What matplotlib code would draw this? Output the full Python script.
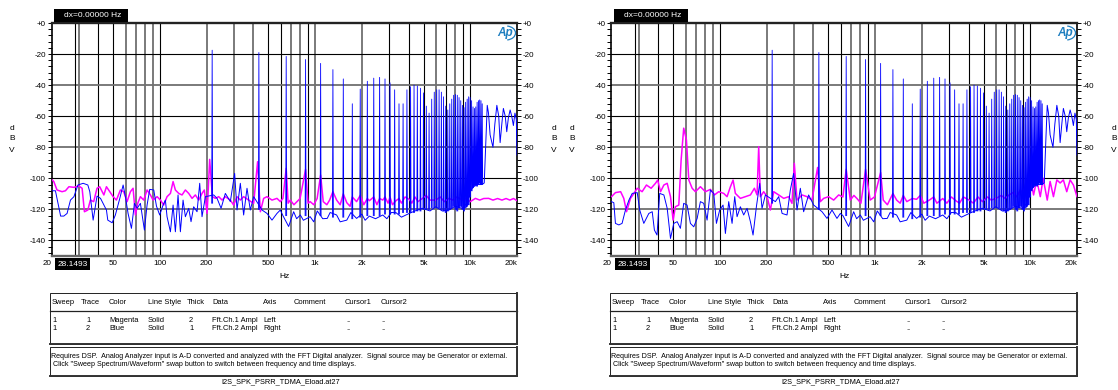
import matplotlib
matplotlib.use("Agg")
import matplotlib.pyplot as plt
from matplotlib.patches import Rectangle, Arc
from matplotlib.ticker import MultipleLocator, NullLocator
import numpy as np

plt.rcParams['font.family'] = ['Liberation Sans', 'DejaVu Sans']

# Ch.1 (magenta), left sweep, 20 Hz - 600 Hz
mag_l_lo_f = [20, 20.7, 21.7, 23.4, 24.6, 25.9, 27.9, 30.0, 31.5, 32.6, 34.3, 35.6, 37.4, 39.3, 40.9,
              43.5, 45.2, 47.5, 49.9, 52.4, 55.6, 58.4, 61.4, 64.5, 67.1, 69.5, 71.9, 74.8, 78.6, 82.6,
              86.8, 90.3, 95.9, 100.7, 105.7, 111.1, 116.8, 121.5, 125.7, 132.1, 138.8, 145.8, 153.2,
              161.0, 169.1, 177.7, 186.7, 193.2, 201.3, 209.1, 217.7, 227.6, 239.1, 251.4, 263.9, 284.2,
              298.5, 313.8, 329.6, 346.2, 372.8, 401.7, 425.9, 443.6, 465.9, 489.8, 527.3, 567.6, 596.7]
mag_l_lo_db = [-100.6, -102.1, -107.5, -108.6, -108, -105.4, -105.8, -104.9, -106.4, -121.5, -120.4, -114,
               -115, -106.4, -105.4, -110.7, -105.4, -108.6, -111.8, -114, -107.5, -108.6, -115, -108.6,
               -106.4, -123.6, -116.1, -111.8, -114, -107.5, -110.7, -114, -111.8, -114, -117.2, -111.8,
               -109.7, -102.1, -107.5, -109.7, -110.7, -107.5, -109.7, -112.9, -110.7, -114, -109.7,
               -107.5, -122.6, -87.8, -111.8, -112.9, -111.8, -114, -111.8, -114, -117.2, -111.8, -114,
               -111.8, -114, -116.1, -89.3, -121.5, -112.9, -111.8, -114, -112.9, -115]
# Ch.1 (magenta), left sweep, 600 Hz - 20 kHz
mag_l_hi_f = [620, 651, 670, 692, 730, 764, 800, 868, 900, 929, 980, 1030, 1085, 1128, 1190, 1240, 1302,
              1376, 1450, 1519, 1600, 1680, 1736, 1851, 1953, 2060, 2170, 2238, 2387, 2500, 2604, 2729,
              2821, 2950, 3038, 3150, 3320, 3472, 3600, 3800, 4040, 4200, 4400, 4600, 4920, 5200, 5500,
              5990, 6400, 6800, 7290, 7700, 8200, 8870, 9400, 10000, 10790, 11500, 12200, 13130, 14000,
              15000, 16000, 17000, 18000, 19000, 20000]
mag_l_hi_db = [-113, -93.6, -116, -114, -117, -115, -113, -94.2, -116, -115, -117, -113, -97.9, -115, -117,
               -114, -108.6, -114, -117, -110, -115.7, -118, -112, -115, -111, -117, -113, -114.4, -112,
               -117, -113, -114, -112, -116, -112, -117, -114.4, -113, -116, -112, -113.5, -116, -112, -115,
               -112.9, -111, -114, -114, -112, -115, -112.9, -114, -112, -114, -113, -115, -112.9, -114,
               -113, -112.9, -114, -113, -114, -113, -114, -113, -114.4]

# Ch.1 (magenta), right sweep
mag_r_lo_f = [20, 21.2, 22.9, 24.0, 25.0, 26.5, 27.9, 29.3, 31.5, 33.6, 36.0, 38.4, 39.7, 41.4, 43.5, 45.7,
              48.0, 49.9, 51.6, 54.3, 56.2, 58.4, 60.8, 63.0, 66.2, 69.5, 74.8, 80.6, 86.8, 92.1, 98.2,
              105.7, 111.1, 116.8, 121.5, 125.7, 135.4, 145.8, 157.1, 166.7, 173.4, 177.7, 182.2, 191.4,
              201.3, 211.3, 222.0, 239.1, 257.6, 277.3, 291.2, 301.4, 313.8, 338.0, 363.9, 391.9, 425.9,
              443.6, 465.9, 501.5, 540.6, 582.3]
mag_r_lo_db = [-111.8, -109.2, -108.6, -112.9, -121.5, -112.9, -109.7, -106.4, -108.6, -104.3, -106.4,
               -103.2, -101.1, -108.6, -104.3, -103.2, -111.8, -126.9, -118.3, -117.2, -88.2, -67.7, -75.3,
               -101.1, -106.4, -108.6, -105.4, -108.6, -107.1, -110.7, -108.6, -109.7, -111.8, -105.4,
               -101.1, -109.7, -112.9, -111.8, -110.7, -106.4, -110.7, -79.6, -111.8, -108.6, -111.8,
               -120.4, -108.6, -110.7, -112.9, -111.8, -116.1, -90.3, -114, -110.7, -111.8, -114, -93,
               -115, -112.9, -111.8, -114, -110.7]
mag_r_hi_f = [620, 651, 692, 730, 764, 810, 868, 929, 990, 1085, 1128, 1200, 1302, 1376, 1450, 1519, 1600,
              1736, 1851, 1953, 2060, 2238, 2387, 2500, 2729, 2900, 3100, 3320, 3500, 3700, 4040, 4300,
              4600, 4920, 5300, 5600, 5990, 6500, 6900, 7290, 7800, 8200, 8610, 9000, 9500, 9750, 10000,
              10500, 11000, 11600, 12100, 12860, 13420, 14100, 14830, 15570, 16340, 17180, 18060, 18960,
              20000]
mag_r_hi_db = [-112, -94.2, -114, -111, -113, -116, -94.2, -114, -112, -96.3, -114, -117, -109.7, -114,
               -116, -111, -115, -113, -113.5, -111, -116, -114, -112, -116, -113, -116, -112, -114.5,
               -116, -112, -114, -116, -112, -115, -112, -114, -113, -111, -113, -110.7, -109, -112,
               -107.5, -110, -101, -109, -100, -110.7, -101, -111.8, -100, -114, -102, -111.8, -101, -103,
               -101, -108.6, -101, -104.3, -111.8]

# Ch.2 (blue) noise floor below 600 Hz, left sweep
blue_l_lo_f = [20, 21.2, 21.7, 22.9, 24.0, 25.2, 26.5, 27.9, 29.6, 32.0, 34.3, 35.3, 37.1, 39.3, 41.4,
               45.2, 46.1, 49.2, 51.6, 55.1, 57.9, 59.9, 62.3, 65.5, 68.5, 71.3, 74.8, 79.4, 82.6, 85.9,
               91.2, 94.9, 99.6, 104.7, 108.4, 111.1, 116.8, 121.5, 125.7, 130.8, 135.4, 140.9, 145.8,
               153.2, 158.6, 164.9, 173.4, 180.4, 186.7, 196.3, 222.0, 233.4, 247.7, 263.9, 284.2, 302.9,
               313.8, 329.6, 346.2, 363.9, 382.2, 401.7, 454.9, 489.8, 527.3, 567.6, 596.7]
blue_l_lo_db = [-108, -108, -113, -124.3, -124.3, -122.6, -114, -111.8, -104.3, -103.2, -104.3, -108.6,
                -126.9, -111.4, -112.9, -120.4, -126.9, -128.6, -123.6, -112.9, -104.3, -111.8, -122.6,
                -132.2, -116.1, -119.3, -116.1, -133.3, -117.2, -107.1, -107.5, -117.8, -123.6, -117.2,
                -114, -124.7, -134.4, -117.2, -134.4, -110.7, -134.4, -114, -124.7, -119.3, -127.9, -118.3,
                -121.5, -103.2, -124.7, -111.8, -110.7, -112.9, -119.3, -109.7, -115, -96.8, -120.4,
                -103.2, -123.6, -106.4, -120.4, -111.8, -120.4, -122.6, -126.9, -122.6, -120.4]
# Ch.2 (blue) noise floor below 600 Hz, right sweep
blue_r_lo_f = [20, 20.7, 21.2, 22.3, 23.4, 24.6, 25.9, 27.2, 29.3, 30.4, 32.3, 34.8, 36.6, 37.8, 39.3,
               40.9, 43.5, 45.7, 48.0, 50.4, 53.0, 55.6, 58.4, 61.4, 64.5, 67.8, 71.3, 74.8, 78.6, 82.6,
               86.8, 91.2, 94.9, 99.6, 104.7, 108.4, 113.9, 119.7, 124.5, 128.9, 135.4, 142.2, 149.5,
               157.1, 163.4, 171.7, 180.4, 186.7, 196.3, 227.6, 239.1, 251.4, 270.5, 284.2, 298.5, 313.8,
               329.6, 346.2, 372.8, 401.7, 454.9, 489.8, 527.3, 567.6, 596.7]
blue_r_lo_db = [-115, -115.7, -129, -130, -129, -120.4, -114, -109.7, -109.2, -120.4, -129, -122.6,
                -121.5, -133.3, -136.5, -109.7, -110.7, -119.3, -138.7, -129, -127.9, -132.2, -116.1,
                -117.2, -129, -131.2, -125.8, -115, -116.1, -126.9, -107.5, -109.7, -129, -120.4, -117.2,
                -135.5, -115, -129, -111.8, -124.7, -118.3, -123.6, -119.3, -127.9, -136.5, -118.3,
                -103.2, -119.3, -110.7, -115, -111.8, -122.6, -123.6, -107.5, -96.8, -120.4, -106.4,
                -121.5, -110.7, -117.2, -121.5, -125.8, -120.4, -125.8, -122.6]

# Ch.2 (blue) floor 600 Hz - 12 kHz, same in both sweeps
blue_hi_f = [620, 675, 727, 760, 803, 840, 929, 980, 1032, 1120, 1197, 1250, 1376, 1450, 1600, 1700, 1851,
             2000, 2100, 2238, 2450, 2729, 2900, 3100, 3320, 3600, 4040, 4400, 4920, 5500, 5990, 6600,
             7290, 8000, 8870, 9500, 10000, 10600, 11200, 11800, 12300]
blue_hi_db = [-124, -131, -121.5, -126, -123.6, -127, -124.7, -128, -121, -126, -125.8, -122, -123.6, -128,
              -126.9, -122, -125.8, -123, -127, -124.3, -126, -123.6, -126, -122, -122.1, -125, -122.6,
              -121, -119.3, -121, -118.3, -121, -120.4, -118, -119.3, -116, -108, -105, -104, -104, -103]
# Ch.2 (blue) above 12 kHz
blue_top_f = [12600, 12860, 13100, 13420, 14000, 14400, 14830, 15250, 15570, 16000, 16340, 16800, 17180,
              17600, 18060, 18500, 18960, 19400, 19800, 20000]
blue_top_db = [-75, -53, -58, -72, -80, -65, -53, -60, -77, -64, -55, -60, -70, -61, -56, -60, -66, -58,
               -62, -85]

# TDMA tones on Ch.2: frequency, peak, level at the foot
tone_f = [217, 434, 651, 868, 1085, 1302, 1519, 1736, 1953, 2170, 2387, 2604, 2821, 3038, 3255, 3472,
          3689, 3906, 4123, 4340, 4557, 4774, 4991, 5208, 5425, 5642, 5859, 6076, 6293, 6510, 6727,
          6944, 7161, 7378, 7595, 7812, 8029, 8246, 8463, 8680, 8897, 9114, 9331, 9548, 9765, 9982,
          10199, 10416, 10633, 10850, 11067, 11284, 11501, 11718, 11935]
tone_db = [-17.5, -19, -21.5, -23.5, -26, -30, -36, -52, -42.5, -37.5, -35.5, -35, -36, -38.5, -43, -52,
           -52, -43, -41, -40, -40.5, -42, -45, -53.5, -58, -49, -44.5, -43, -43, -44.5, -47.5, -53.5,
           -56, -52, -49, -46.5, -46, -46.5, -48, -50, -53, -54.5, -51, -49, -47.5, -48, -50, -54, -55,
           -54, -51, -50, -49.5, -50, -52]
tone_foot = [-116, -120, -124, -124, -124, -125, -125, -126, -125, -124, -124, -124, -123, -123, -123,
             -123, -122, -122, -122, -122, -121, -121, -120, -120, -120, -119, -119, -119, -119, -120,
             -121, -122, -121, -120, -119, -118, -120, -121, -119, -118, -120, -121, -119, -118, -117,
             -112, -108, -106, -105, -104, -105, -104, -103, -104, -104]

x_ticks = [20, 50, 100, 200, 500, 1000, 2000, 5000, 10000, 20000]
x_labels = ['20', '50', '100', '200', '500', '1k', '2k', '5k', '10k', '20k']
y_ticks = [0, -20, -40, -60, -80, -100, -120, -140]
y_labels = ['+0', '-20', '-40', '-60', '-80', '-100', '-120', '-140']

# grid lines as they show up in the picture (dark / grey)
vgrid_dark = [40, 50, 100, 500, 600, 900, 3000, 4000, 5000, 7000, 9000, 10000]
vgrid_grey = [30, 60, 70, 80, 90, 200, 300, 400, 700, 800, 1000, 2000, 6000, 8000]
hgrid_dark = [-20, -60, -100, -140]
hgrid_grey = [-40, -80, -120]
cursor_hz = 28.1493

tbl_cols = ['Sweep', 'Trace', 'Color', 'Line Style', 'Thick', 'Data', 'Axis', 'Comment', 'Cursor1', 'Cursor2']
tbl_rows = [['1', '1', 'Magenta', 'Solid', '2', 'Fft.Ch.1 Ampl', 'Left', '', '..', '..'],
            ['1', '2', 'Blue', 'Solid', '1', 'Fft.Ch.2 Ampl', 'Right', '', '..', '..']]
note1 = 'Requires DSP.  Analog Analyzer input is A-D converted and analyzed with the FFT Digital analyzer.  Signal source may be Generator or external.'
note2 = ' Click "Sweep Spectrum/Waveform" swap button to switch between frequency and time displays.'
file_name = 'I2S_SPK_PSRR_TDMA_Eload.at27'

W, H = 1118, 390
MAG = '#ff00ff'
BLUE = '#0000ff'


def px_box(x0, y0, x1, y1):
    return [x0 / W, 1 - y1 / H, (x1 - x0) / W, (y1 - y0) / H]


def tone_path():
    xs, ys = [], []
    for f, top, foot in zip(tone_f, tone_db, tone_foot):
        xs += [f * 0.993, f, f * 1.007, np.nan]
        ys += [foot, top, foot, np.nan]
    return xs, ys


def draw_sweep(ax, mag_f, mag_db, blue_f, blue_db):
    for f in vgrid_grey:
        ax.axvline(f, color='#707070', lw=1.3, zorder=1)
    for f in vgrid_dark:
        ax.axvline(f, color='#000000', lw=0.8, zorder=1)
    for d in hgrid_grey:
        ax.axhline(d, color='#707070', lw=1.3, zorder=1)
    for d in hgrid_dark:
        ax.axhline(d, color='#000000', lw=0.8, zorder=1)
    ax.axvline(cursor_hz, color='#000000', lw=0.8, zorder=1)

    ax.plot(mag_f, mag_db, color=MAG, lw=1.1, zorder=3)
    ax.plot(blue_f, blue_db, color=BLUE, lw=0.7, zorder=4)
    tx, ty = tone_path()
    ax.plot(tx, ty, color=BLUE, lw=0.6, zorder=4)

    ax.set_xscale('log')
    ax.set_xlim(20, 20000)
    ax.set_ylim(-150, 0)
    ax.set_xticks(x_ticks)
    ax.set_xticklabels(x_labels)
    ax.xaxis.set_minor_locator(NullLocator())
    ax.tick_params(axis='x', length=0, pad=3, labelsize=5.8)
    lab = ax.get_xticklabels()
    lab[0].set_horizontalalignment('right')
    lab[-1].set_horizontalalignment('right')
    ax.set_yticks(y_ticks)
    ax.set_yticklabels(y_labels)
    ax.yaxis.set_minor_locator(MultipleLocator(4))
    ax.tick_params(axis='y', which='both', left=True, right=True, labelleft=True, labelright=True,
                   direction='out', length=3, width=0.7, pad=1, labelsize=5.8)
    for side, c, w in [('top', '#222222', 1.7), ('bottom', '#666666', 1.7),
                       ('left', '#000000', 1.2), ('right', '#000000', 1.2)]:
        ax.spines[side].set_color(c)
        ax.spines[side].set_linewidth(w)


fig = plt.figure(figsize=(W / 100, H / 100), dpi=100)

sweeps = [(0, mag_l_lo_f + mag_l_hi_f, mag_l_lo_db + mag_l_hi_db,
           blue_l_lo_f + blue_hi_f + blue_top_f, blue_l_lo_db + blue_hi_db + blue_top_db),
          (560, mag_r_lo_f + mag_r_hi_f, mag_r_lo_db + mag_r_hi_db,
           blue_r_lo_f + blue_hi_f + blue_top_f, blue_r_lo_db + blue_hi_db + blue_top_db)]

for dx, mf, md, bf, bd in sweeps:
    ax = fig.add_axes(px_box(51.5 + dx, 23, 517 + dx, 256))
    draw_sweep(ax, mf, md, bf, bd)

# overlay in pixel units for the boxes and captions
ov = fig.add_axes([0, 0, 1, 1])
ov.set_xlim(0, W)
ov.set_ylim(H, 0)
ov.axis('off')

col_x = [52, 81, 109, 148, 187, 212, 263, 294, 345, 381]
val_x = [52, 86, 109, 148, 189, 212, 263, 294, 346, 381]

for dx, *_ in sweeps:
    ov.add_patch(Rectangle((54 + dx, 9), 74, 13, fc='black', ec='none'))
    ov.text(64 + dx, 15.8, 'dx=0.00000 Hz', color='white', fontsize=6, va='center', ha='left')
    ov.add_patch(Rectangle((55 + dx, 257.5), 35, 12.5, fc='black', ec='none'))
    ov.text(72.5 + dx, 264, '28.1493', color='white', fontsize=6, va='center', ha='center')
    for xx in (12 + dx, 554 + dx):
        for yy, ch in zip((128, 139, 150), 'dBV'):
            ov.text(xx, yy, ch, fontsize=6, ha='center', va='center')
    ov.text(284 + dx, 277, 'Hz', fontsize=6, ha='center', va='center')
    # AP logo
    ov.text(505 + dx, 33, 'Ap', fontsize=8.5, color='#1f7fc0', fontstyle='italic', fontweight='bold',
            ha='center', va='center')
    ov.add_patch(Arc((506 + dx, 33), 19, 14, theta1=-80, theta2=80, color='#1f7fc0', lw=0.9))

    # legend table
    ov.add_patch(Rectangle((50 + dx, 292.5), 467, 51.5, fill=False, ec='#222222', lw=0.7))
    ov.plot([50 + dx, 517 + dx], [311, 311], color='#222222', lw=0.9)
    ov.plot([517 + dx, 517 + dx], [292.5, 344], color='#333333', lw=1.4)
    ov.plot([50 + dx, 517 + dx], [344, 344], color='#333333', lw=1.4)
    for c, x in zip(tbl_cols, col_x):
        ov.text(x + dx, 302, c, fontsize=5.4, ha='left', va='center')
    for r, yy in zip(tbl_rows, (320, 328.5)):
        for v, x in zip(r, val_x):
            ov.text(x + dx, yy, v, fontsize=5.4, ha='left', va='center')

    ov.add_patch(Rectangle((50 + dx, 347), 467, 29, fill=False, ec='#222222', lw=0.7))
    ov.plot([517 + dx, 517 + dx], [347, 376], color='#333333', lw=1.4)
    ov.plot([50 + dx, 517 + dx], [376, 376], color='#333333', lw=1.4)
    ov.text(51 + dx, 356.5, note1, fontsize=5.15, ha='left', va='center')
    ov.text(51 + dx, 365, note2, fontsize=5.15, ha='left', va='center')
    ov.text(281 + dx, 382, file_name, fontsize=5.3, ha='center', va='center')

fig.savefig('out.png', dpi=100)
